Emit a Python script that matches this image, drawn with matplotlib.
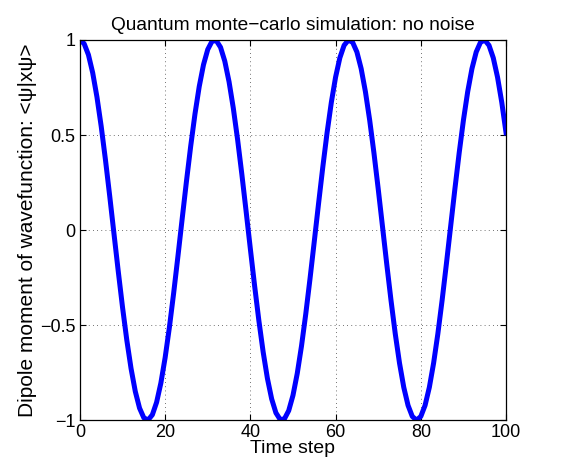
import matplotlib
matplotlib.use("Agg")
import matplotlib.pyplot as plt

# time steps and dipole moment values
time_step = list(range(0, 101))
dipole = [
    1.0000, 0.9803, 0.9220, 0.8273, 0.6999, 0.5451, 0.3688, 0.1780, -0.0199, -0.2170,
    -0.4056, -0.5780, -0.7278, -0.8491, -0.9367, -0.9874, -0.9992, -0.9717, -0.9059, -0.8045,
    -0.6713, -0.5116, -0.3316, -0.1387, 0.0596, 0.2556, 0.4415, 0.6100, 0.7547, 0.8695,
    0.9498, 0.9929, 0.9968, 0.9615, 0.8883, 0.7801, 0.6410, 0.4769, 0.2938, 0.0993,
    -0.0993, -0.2938, -0.4769, -0.6410, -0.7801, -0.8883, -0.9615, -0.9968, -0.9929, -0.9498,
    -0.8695, -0.7547, -0.6100, -0.4415, -0.2556, -0.0596, 0.1387, 0.3316, 0.5116, 0.6713,
    0.8045, 0.9059, 0.9717, 0.9992, 0.9874, 0.9367, 0.8491, 0.7278, 0.5780, 0.4056,
    0.2170, 0.0199, -0.1780, -0.3688, -0.5451, -0.6999, -0.8273, -0.9220, -0.9803, -1.0000,
    -0.9803, -0.9220, -0.8273, -0.6999, -0.5451, -0.3688, -0.1780, 0.0199, 0.2170, 0.4056,
    0.5780, 0.7278, 0.8491, 0.9367, 0.9874, 0.9992, 0.9717, 0.9059, 0.8045, 0.6713,
    0.5116,
]
x_ticks = [0, 20, 40, 60, 80, 100]
y_ticks = [-1, -0.5, 0, 0.5, 1]
y_tick_labels = ["\u22121", "\u22120.5", "0", "0.5", "1"]

plt.rcParams["font.family"] = ["Liberation Sans", "DejaVu Sans"]

fig = plt.figure(figsize=(5.79, 4.70), dpi=100)
ax = fig.add_axes([0.138, 0.106, 0.736, 0.809])

ax.plot(time_step, dipole, color="#0000ff", linewidth=3.6, solid_joinstyle="round")

ax.set_xlim(0, 100)
ax.set_ylim(-1, 1)
ax.set_xticks(x_ticks)
ax.set_yticks(y_ticks)
ax.set_yticklabels(y_tick_labels)
ax.tick_params(direction="in", top=True, right=True, length=4, width=0.8,
               labelsize=13, pad=3)
ax.grid(True, linestyle=(0, (1, 4)), color="#444444", linewidth=0.6)
for s in ax.spines.values():
    s.set_linewidth(0.9)

ax.set_title("Quantum monte\u2212carlo simulation: no noise", fontsize=13.8, pad=7)
ax.set_xlabel("Time step", fontsize=14, labelpad=-1)
ax.set_ylabel("Dipole moment of wavefunction: <\u03c8|x\u03c8>", fontsize=15, labelpad=2)

fig.savefig("out.png", dpi=100)
